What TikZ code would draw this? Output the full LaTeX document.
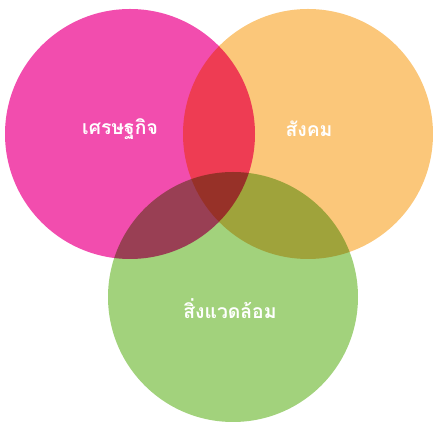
\documentclass[tikz,border=0pt]{standalone}
\usepackage{fontspec}
\newfontfamily\thaifont[Script=Thai]{Loma}
\definecolor{econpink}{HTML}{F24DAE}
\definecolor{socorange}{HTML}{FBC77A}
\definecolor{envgreen}{HTML}{A2D27C}
\tikzset{
  venn/.style={circle, draw=none, minimum size=187.5pt, inner sep=0pt},
  vennlabel/.style={text=white, font=\thaifont\bfseries\fontsize{14.5}{16}\selectfont}
}
\begin{document}
\begin{tikzpicture}[x=0.75pt, y=-0.75pt]
      \useasboundingbox (0,0) rectangle (433,423);
      \begin{scope}[blend group=multiply]
        \node[venn, fill=econpink] (econ) at (130,134) {};
        \node[venn, fill=socorange] (soc) at (308,134) {};
        \node[venn, fill=envgreen] (env) at (233,297) {};
      \end{scope}
      \node[vennlabel] (econlbl) at (120,129) {เศรษฐกิจ};
      \node[vennlabel] (soclbl) at (309,129) {สังคม};
      \node[vennlabel] (envlbl) at (230,309) {สิ่งแวดล้อม};
    \end{tikzpicture}
\end{document}
